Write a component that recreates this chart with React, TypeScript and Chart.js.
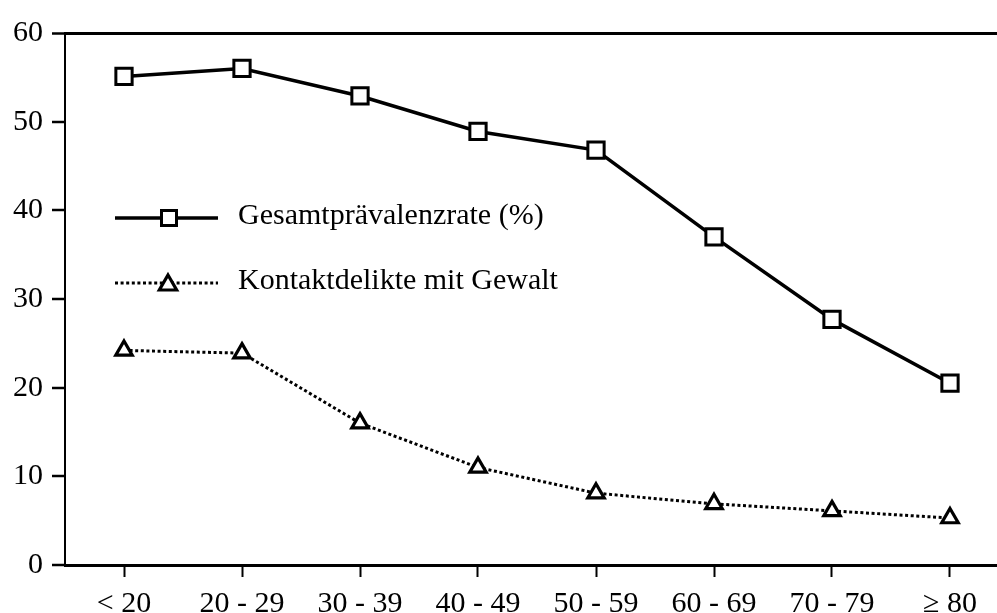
import React, { useEffect, useRef } from 'react';
import { Chart, registerables } from 'chart.js';

Chart.register(...registerables);

const categories = ['< 20', '20 - 29', '30 - 39', '40 - 49', '50 - 59', '60 - 69', '70 - 79', '≥ 80'];
const gesamtValues = [55.1, 56.0, 52.9, 48.9, 46.8, 37.0, 27.7, 20.5];
const kontaktValues = [24.2, 23.9, 16.0, 11.0, 8.1, 6.9, 6.1, 5.3];
const yTickValues = [0, 10, 20, 30, 40, 50, 60];
const seriesLabels = ['Gesamtprävalenzrate (%)', 'Kontaktdelikte mit Gewalt'];

const FONT = "'Liberation Serif', 'Times New Roman', serif";
const W = 997;
const H = 613;

function drawSquare(ctx: CanvasRenderingContext2D, cx: number, cy: number, side: number, lw: number) {
  ctx.save();
  ctx.setLineDash([]);
  ctx.fillStyle = '#fff';
  ctx.strokeStyle = '#000';
  ctx.lineWidth = lw;
  ctx.beginPath();
  ctx.rect(cx - side / 2, cy - side / 2, side, side);
  ctx.fill();
  ctx.stroke();
  ctx.restore();
}

function drawTriangle(ctx: CanvasRenderingContext2D, cx: number, cy: number, r: number, lw: number) {
  ctx.save();
  ctx.setLineDash([]);
  ctx.fillStyle = '#fff';
  ctx.strokeStyle = '#000';
  ctx.lineWidth = lw;
  ctx.beginPath();
  ctx.moveTo(cx, cy - r);
  ctx.lineTo(cx + 0.866 * r, cy + 0.5 * r);
  ctx.lineTo(cx - 0.866 * r, cy + 0.5 * r);
  ctx.closePath();
  ctx.fill();
  ctx.stroke();
  ctx.restore();
}

const insideLegend = {
  id: 'insideLegend',
  afterDatasetsDraw(chart: any) {
    const { ctx, chartArea } = chart;
    const x0 = chartArea.left + 50;
    const lineLen = 103;
    const textX = chartArea.left + 173;
    const rows = [chartArea.top + 185, chartArea.top + 250];
    chart.data.datasets.forEach((ds: any, i: number) => {
      const y = rows[i];
      ctx.save();
      ctx.strokeStyle = '#000';
      ctx.lineWidth = ds.borderWidth;
      ctx.setLineDash(ds.borderDash || []);
      ctx.beginPath();
      ctx.moveTo(x0, y);
      ctx.lineTo(x0 + lineLen, y);
      ctx.stroke();
      ctx.restore();
      if (i === 0) {
        drawSquare(ctx, x0 + 54, y, 15, 3);
      } else {
        drawTriangle(ctx, x0 + 53, y + 2, 10, 3.2);
      }
      ctx.save();
      ctx.fillStyle = '#000';
      ctx.font = `30px ${FONT}`;
      ctx.textBaseline = 'middle';
      ctx.textAlign = 'left';
      ctx.fillText(ds.label, textX, y - 2);
      ctx.restore();
    });
  },
};

export default function App() {
  const ref = useRef<HTMLCanvasElement | null>(null);

  useEffect(() => {
    document.body.style.margin = '0';
    const canvas = ref.current;
    if (!canvas) return;
    const toXY = (vals: number[]) => vals.map((v, i) => ({ x: i, y: v }));
    const chart = new Chart(canvas, {
      type: 'line',
      data: {
        datasets: [
          {
            label: seriesLabels[0],
            data: toXY(gesamtValues),
            borderColor: '#000',
            borderWidth: 3.5,
            pointStyle: 'rect',
            pointRadius: 11.5,
            pointBorderWidth: 3,
            pointBackgroundColor: '#fff',
            pointBorderColor: '#000',
            tension: 0,
            clip: false,
          },
          {
            label: seriesLabels[1],
            data: toXY(kontaktValues),
            borderColor: '#000',
            borderWidth: 3,
            borderDash: [3, 2.6],
            pointStyle: 'triangle',
            pointRadius: 9.5,
            pointBorderWidth: 3.2,
            pointBackgroundColor: '#fff',
            pointBorderColor: '#000',
            tension: 0,
            clip: false,
          },
        ],
      },
      options: {
        animation: false,
        responsive: false,
        maintainAspectRatio: false,
        layout: { autoPadding: false, padding: { top: 33, right: 0, left: 0, bottom: 0 } },
        plugins: {
          legend: { display: false },
          tooltip: { enabled: false },
          title: { display: false },
        },
        scales: {
          x: {
            type: 'linear',
            min: -0.5,
            max: (W - 65) / 118 - 0.5,
            afterBuildTicks: (scale: any) => {
              scale.ticks = categories.map((_, i) => ({ value: i }));
            },
            afterFit: (scale: any) => {
              scale.height = H - 565;
              scale.paddingRight = 0;
              scale.paddingLeft = 0;
            },
            grid: {
              drawOnChartArea: false,
              drawTicks: true,
              tickLength: 12,
              tickColor: '#000',
              tickWidth: 2,
            },
            border: { display: true, color: '#000', width: 3 },
            ticks: {
              autoSkip: false,
              maxRotation: 0,
              padding: 9,
              color: '#000',
              font: { family: FONT, size: 30 },
              callback: (v: any) => categories[v] ?? '',
            },
          },
          y: {
            min: 0,
            max: 60,
            afterBuildTicks: (scale: any) => {
              scale.ticks = yTickValues.map((v) => ({ value: v }));
            },
            afterFit: (scale: any) => {
              scale.width = 65;
              scale.paddingTop = 0;
              scale.paddingBottom = 0;
            },
            grid: {
              drawOnChartArea: true,
              drawTicks: true,
              tickLength: 13,
              color: (c: any) => (c.tick && c.tick.value === 60 ? '#000' : 'rgba(0,0,0,0)'),
              lineWidth: (c: any) => (c.tick && c.tick.value === 60 ? 3 : 2),
              tickColor: '#000',
              tickWidth: 2.5,
            },
            border: { display: true, color: '#000', width: 2 },
            ticks: {
              padding: 9,
              color: '#000',
              font: { family: FONT, size: 30 },
            },
          },
        },
      },
      plugins: [insideLegend],
    } as any);
    return () => chart.destroy();
  }, []);

  return (
    <div style={{ width: W, height: H, overflow: 'hidden', background: '#fff' }}>
      <canvas ref={ref} width={W} height={H} style={{ display: 'block', width: W, height: H }} />
    </div>
  );
}
